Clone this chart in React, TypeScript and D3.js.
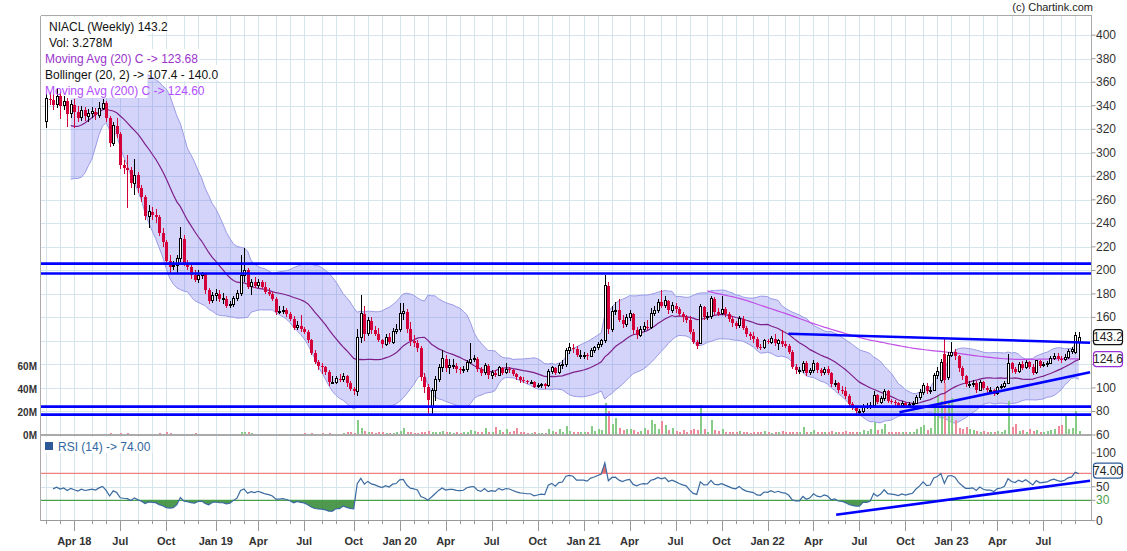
import React from "react";
import * as d3 from "d3";

// ---- data (weekly candles, NIACL) ----
const preCloses = [350, 330, 312, 296, 286, 292, 282, 290, 305, 318, 328, 336];

const opens = [
327,346,345,341,348,340,344,333,341,335,330,336,331,333,335,332,338,342,330,308,
323,316,290,287,285,274,281,270,262,246,250,247,245,232,224,208,203,204,210,227,
206,203,196,192,196,197,183,174,179,180,176,176,170,171,176,180,196,200,186,190,
187,190,186,182,180,176,165,165,166,163,159,151,153,150,148,141,130,122,119,118,
114,105,105,108,107,110,104,99,97,143,163,146,157,149,146,141,137,143,139,148,
150,163,165,150,140,138,134,109,101,83,98,107,117,125,117,119,119,116,115,116,
122,124,125,116,113,119,111,113,111,117,113,116,115,112,109,107,106,105,105,101,
102,103,102,114,117,113,119,120,132,134,133,128,128,128,127,132,134,137,140,187,
150,165,166,158,154,160,163,149,145,150,152,151,163,166,173,170,174,166,170,167,
163,160,158,148,139,138,169,160,161,176,165,163,167,163,159,155,153,159,151,146,
144,142,135,134,140,139,142,138,140,137,136,131,118,115,115,121,113,115,121,115,
113,116,113,103,104,98,97,93,86,83,80,80,84,84,85,94,88,91,97,89,
88,87,85,87,85,86,87,92,96,102,97,98,111,106,129,109,128,131,127,117,
110,103,103,104,98,105,100,98,98,95,100,101,104,121,116,114,120,117,122,118,
113,123,119,120,121,125,127,125,124,126,131,130,139];

const highs = [
350,352,350,355,352,348,347,345,346,340,340,339,337,339,338,343,346,344,331,326,
330,318,294,298,288,295,284,273,264,256,254,252,247,236,226,213,208,213,237,230,
209,205,200,200,199,198,185,182,184,183,181,178,174,178,183,213,219,202,193,194,
193,192,190,185,182,177,170,170,168,165,161,157,162,152,149,142,132,124,121,119,
115,110,110,112,113,111,106,101,150,179,170,160,160,153,151,142,146,147,151,154,
172,172,167,156,145,141,136,113,103,100,110,120,132,128,125,125,121,118,119,124,
138,128,126,118,121,120,115,115,119,118,121,118,116,113,110,109,107,107,106,104,
104,104,116,119,118,121,124,134,138,137,136,132,131,130,134,136,139,142,196,190,
170,173,176,162,163,166,164,152,153,156,158,168,170,176,183,178,175,173,172,169,
165,162,161,150,141,171,170,165,178,177,168,178,169,165,161,157,161,161,153,148,
148,143,137,142,142,144,146,142,149,140,137,132,120,118,123,123,117,124,122,117,
118,119,114,107,105,102,101,95,88,85,82,86,87,88,97,95,93,99,98,91,
90,88,89,88,88,89,94,99,104,104,101,113,118,125,142,131,139,133,128,119,
111,106,107,106,107,106,102,101,99,102,103,106,129,122,118,122,123,124,123,120,
124,124,122,123,127,130,130,127,129,133,135,148,148];

const lows = [
321,341,336,338,329,336,322,330,321,326,327,327,326,330,328,330,336,326,305,306,
313,286,282,253,270,264,266,258,243,236,243,240,229,220,205,197,200,198,207,204,
200,193,190,189,193,180,171,172,174,173,171,168,168,169,174,178,190,184,179,185,
185,184,180,178,174,162,163,163,160,157,149,149,148,146,138,128,120,115,112,111,
102,103,103,105,105,101,97,94,93,138,140,144,146,144,139,134,136,137,137,146,
148,158,147,136,135,131,106,96,76,76,89,105,114,114,112,116,113,112,113,114,
120,122,114,110,111,108,108,109,110,111,112,113,110,107,104,104,103,103,100,100,
100,99,101,112,111,112,116,118,129,130,126,125,125,124,126,130,132,135,138,146,
148,162,156,151,152,157,146,142,143,148,149,150,161,164,168,168,163,164,164,161,
156,155,146,137,133,137,158,158,159,162,161,162,160,156,152,150,151,149,143,141,
138,133,132,133,137,137,136,132,135,134,129,116,112,112,113,110,111,113,113,110,
111,111,101,101,96,95,91,84,81,78,78,79,82,82,84,86,86,89,87,86,
85,83,83,83,84,84,86,90,94,95,95,97,108,104,104,107,126,124,114,107,
101,100,101,96,97,98,96,96,93,94,99,100,103,113,112,113,115,116,116,111,
112,117,118,118,120,124,123,121,123,125,129,129,124];

const closes = [
346,345,341,348,340,344,333,341,335,330,336,331,333,335,332,338,342,330,308,323,
316,290,287,285,274,281,270,262,246,250,247,245,232,224,208,203,204,210,227,206,
203,196,192,196,197,183,174,179,180,176,176,170,171,176,180,196,200,186,190,187,
190,186,182,180,176,165,165,166,163,159,151,153,150,148,141,130,122,119,118,114,
105,105,108,107,110,104,99,97,143,163,146,157,149,146,141,137,143,139,148,150,
163,165,150,140,138,134,109,101,90,98,107,117,125,117,119,119,116,115,116,122,
124,125,116,113,119,111,113,111,117,113,116,115,112,109,107,106,105,105,101,102,
103,102,114,117,113,119,120,132,134,133,128,128,128,127,132,134,137,140,187,150,
165,166,158,154,160,163,149,145,150,152,151,163,166,173,170,174,166,170,167,163,
160,158,148,139,136,169,160,161,176,165,163,167,163,159,155,153,159,151,146,144,
142,135,134,140,139,142,138,140,137,136,131,118,115,115,121,113,115,121,115,113,
116,113,103,104,98,97,93,86,83,80,80,84,84,85,94,88,91,97,89,88,
87,85,87,85,86,87,92,96,102,97,98,111,114,122,107,128,130,127,117,110,
103,103,104,98,105,100,98,98,95,100,101,104,121,116,114,120,117,122,118,113,
123,119,120,121,125,127,125,124,126,131,133,145,143.2];

const volumes = [
1.2,0.8,0.6,0.5,0.7,1.0,0.6,0.5,0.4,0.6, 0.5,0.6,0.4,1.0,1.2,0.9,1.1,0.8,1.4,1.0,
0.8,1.5,1.0,1.6,1.2,0.8,1.0,0.9,1.3,1.1, 0.8,1.2,1.5,1.3,2.2,1.4,1.0,0.9,1.2,1.0,
0.7,1.0,1.4,1.2,0.8,0.6,1.3,0.7,0.6,0.8, 0.7,0.9,0.6,0.8,1.2,2.5,2.8,2.4,2.0,1.3,
0.8,0.9,0.7,0.6,0.9,1.2,0.8,0.7,0.6,0.9, 1.1,0.8,1.0,1.4,1.0,1.6,1.2,0.9,1.4,1.0,
1.5,1.1,0.9,1.0,1.8,2.2,2.5,2.0,13,6, 3.5,2.5,2.2,2.0,2.8,2.4,1.8,2.0,1.5,2.5,
3.5,6,2.4,2.2,2.0,1.8,2.5,3.0,3.5,2.8, 3.0,2.6,3.8,2.4,2.2,2.0,2.6,1.8,2.2,3.0,
4.0,3.2,2.8,2.4,6.0,3.0,2.6,7.0,4.0,2.4, 5.0,2.4,3.5,6.0,2.6,2.2,1.8,2.0,2.4,1.6,
1.8,2.0,5.0,3.5,2.8,5.0,3.0,8.0,3.5,2.6, 2.8,2.4,2.2,2.6,8.0,3.5,5.0,4.0,27.5,21,
10,15,6.0,4.0,5.0,5.5,4.5,3.0,3.5,6.0, 4.0,13,10,5.0,12,9.0,4.5,6.0,3.5,3.0,
4.0,3.0,4.5,5.0,4.0,26,5.0,3.0,13,4.0, 3.5,5.0,2.8,3.0,2.6,2.4,3.5,2.8,2.2,2.0,
2.5,2.8,3.0,3.5,2.4,2.0,2.6,2.2,3.5,2.8, 3.0,2.8,2.4,2.2,7.0,3.0,2.6,4.0,2.8,2.4,
2.6,3.0,3.5,2.8,2.4,3.0,3.2,2.8,2.6,2.4, 3.0,4.5,3.5,5.0,11,4.0,5.0,9.5,3.0,2.6,
2.4,2.2,3.0,2.4,2.8,3.0,5.0,7.0,9.0,4.0, 6.0,26,35,30,45,30,32,13,6.0,5.0,
7.0,5.0,4.0,3.5,3.0,3.5,3.0,2.6,2.8,3.5, 3.0,4.0,30,7.0,10,3.5,4.0,3.0,5.0,3.5,
4.0,3.0,2.8,3.5,4.0,5.0,8.0,9.0,17,5.0, 6.0,21,3.278];

const hLevels = [205.7, 197.3, 84.1, 77.3];
const priceTrendlines = [
  { i1: 209.9, v1: 146.1, i2: 295.2, v2: 138.5 },
  { i1: 241.3, v1: 79.3, i2: 295.2, v2: 113.3 },
];
const rsiTrendlines = [{ i1: 223.4, v1: 8.7, i2: 295.2, v2: 59 }];
const priceGrid = [60, 80, 100, 120, 140, 160, 180, 200, 220, 240, 260, 280, 300, 320, 340, 360, 380, 400];
const priceLabels = [60, 80, 100, 160, 180, 200, 220, 240, 260, 280, 300, 320, 340, 360, 380, 400];
const volTicks = [0, 20, 40, 60];
const rsiTicks = [0, 30, 50, 100];
const monthNames = ["Jan", "Feb", "Mar", "Apr", "May", "Jun", "Jul", "Aug", "Sep", "Oct", "Nov", "Dec"];
const legendRows = [
  { text: "NIACL (Weekly) 143.2", color: "#111", x: 49, boxW: 125 },
  { text: "Vol: 3.278M", color: "#111", x: 49, boxW: 72 },
  { text: "Moving Avg (20) C -> 123.68", color: "#9933cc", x: 45, boxW: 158 },
  { text: "Bollinger (20, 2) -> 107.4 - 140.0", color: "#111", x: 45, boxW: 182 },
  { text: "Moving Avg (200) C -> 124.60", color: "#b24dff", x: 45, boxW: 106 },
];

const FONT = "'Liberation Sans', Arial, Helvetica, sans-serif";
const X0 = 40.5, X1 = 1091.5, TOP = 15.5, MAIN_BOT = 435, RSI_BOT = 520.6;
const START = new Date(2018, 1, 5);
const LAST_TICK_INDEX = 293;

export default function App() {
  const n = closes.length;
  const P = preCloses.length;
  const all = [...preCloses, ...closes];

  const x = d3.scaleLinear().domain([-1.55, 295.6]).range([X0, X1]);
  const y = d3.scaleLinear().domain([60, 400]).range([MAIN_BOT, 35.2]);
  const yv = d3.scaleLinear().domain([0, 60]).range([MAIN_BOT, 366]);
  const yr = d3.scaleLinear().domain([0, 100]).range([RSI_BOT, 453]);

  // indicators
  const ma = (len: number) =>
    closes.map((_, i) => {
      const j = i + P;
      if (j < len - 1) return null;
      return d3.mean(all.slice(j - len + 1, j + 1)) as number;
    });
  const ma20 = ma(20);
  const ma200 = ma(200);
  const sd20 = closes.map((_, i) => {
    const j = i + P;
    if (j < 19) return null;
    const w = all.slice(j - 19, j + 1);
    const m = d3.mean(w) as number;
    return Math.sqrt(d3.mean(w.map((v) => (v - m) * (v - m))) as number);
  });
  const rsiAll: (number | null)[] = all.map(() => null);
  let ag = 0, al = 0;
  for (let j = 1; j < all.length; j++) {
    const ch = all[j] - all[j - 1];
    const g = Math.max(ch, 0), l = Math.max(-ch, 0);
    if (j <= 14) {
      ag += g / 14; al += l / 14;
      if (j === 14) rsiAll[j] = 100 - 100 / (1 + ag / al);
    } else {
      ag = (ag * 13 + g) / 14; al = (al * 13 + l) / 14;
      rsiAll[j] = al === 0 ? 100 : 100 - 100 / (1 + ag / al);
    }
  }
  const rsi = closes.map((_, i) => rsiAll[i + P]);

  const idx = d3.range(n);
  const band = d3.area<number>()
    .defined((i) => ma20[i] != null)
    .x((i) => x(i))
    .y0((i) => y((ma20[i] as number) - 2 * (sd20[i] as number)))
    .y1((i) => y((ma20[i] as number) + 2 * (sd20[i] as number)))(idx) as string;
  const bandUp = d3.line<number>().defined((i) => ma20[i] != null).x((i) => x(i))
    .y((i) => y((ma20[i] as number) + 2 * (sd20[i] as number)))(idx) as string;
  const bandDn = d3.line<number>().defined((i) => ma20[i] != null).x((i) => x(i))
    .y((i) => y((ma20[i] as number) - 2 * (sd20[i] as number)))(idx) as string;
  const ma20Path = d3.line<number>().defined((i) => ma20[i] != null).x((i) => x(i)).y((i) => y(ma20[i] as number))(idx) as string;
  const ma200Path = d3.line<number>().defined((i) => ma200[i] != null).x((i) => x(i)).y((i) => y(ma200[i] as number))(idx) as string;
  const rsiPath = d3.line<number>().defined((i) => rsi[i] != null).x((i) => x(i)).y((i) => yr(rsi[i] as number))(idx) as string;
  const rsiArea = (lvl: number) =>
    d3.area<number>().defined((i) => rsi[i] != null).x((i) => x(i)).y0(yr(lvl)).y1((i) => yr(rsi[i] as number))(idx) as string;

  // month ticks
  const dateAt = (i: number) => d3.timeDay.offset(START, 7 * i);
  const months: { i: number; m: number; yr: number }[] = [];
  for (let i = 0; i <= LAST_TICK_INDEX; i++) {
    const d = dateAt(i);
    const prev = dateAt(i - 1);
    if (d.getMonth() !== prev.getMonth()) months.push({ i, m: d.getMonth(), yr: d.getFullYear() });
  }
  let firstLabel = true;
  const quarterLabels = months.filter((t) => t.m % 3 === 0).map((t) => {
    let label = monthNames[t.m];
    if (t.m === 0 || firstLabel) label += " " + String(t.yr).slice(2);
    firstLabel = false;
    return { ...t, label };
  });

  const grid = "#d5e5ec";

  return (
    <svg width={1127} height={551} style={{ display: "block", position: "absolute", left: 0, top: 0 }} fontFamily={FONT}>
      <defs>
        <clipPath id="mainClip"><rect x={X0} y={TOP} width={X1 - X0} height={MAIN_BOT - TOP} /></clipPath>
        <clipPath id="rsiClip"><rect x={X0} y={MAIN_BOT} width={X1 - X0} height={RSI_BOT - MAIN_BOT} /></clipPath>
        <clipPath id="below30"><rect x={X0} y={yr(30)} width={X1 - X0} height={RSI_BOT - yr(30)} /></clipPath>
        <clipPath id="above70"><rect x={X0} y={MAIN_BOT} width={X1 - X0} height={yr(70) - MAIN_BOT} /></clipPath>
      </defs>
      <rect x={0} y={0} width={1127} height={551} fill="#fff" />

      {/* grid */}
      <g stroke={grid} strokeWidth={1} shapeRendering="crispEdges">
        {months.map((t) => (
          <line key={"vg" + t.i} x1={Math.round(x(t.i)) + 0.5} x2={Math.round(x(t.i)) + 0.5} y1={TOP} y2={RSI_BOT} />
        ))}
        {priceGrid.map((v) => (
          <line key={"hg" + v} x1={X0} x2={X1} y1={Math.round(y(v)) + 0.5} y2={Math.round(y(v)) + 0.5} />
        ))}
        <line x1={X0} x2={X1} y1={Math.round(yr(50)) + 0.5} y2={Math.round(yr(50)) + 0.5} />
      </g>

      {/* legend boxes hide grid */}
      {legendRows.map((r, k) => (
        <rect key={"lb" + k} x={X0 + 1} y={17 + k * 16} width={r.boxW} height={16} fill="#fff" />
      ))}

      <g clipPath="url(#mainClip)">
        <path d={band} fill="rgb(100,100,240)" fillOpacity={0.28} />
        <path d={bandUp} fill="none" stroke="#9a9ae6" strokeWidth={1} />
        <path d={bandDn} fill="none" stroke="#9a9ae6" strokeWidth={1} />
        <rect x={X0 + 1} y={17} width={106} height={81} fill="#fff" />

        {/* volume */}
        <g shapeRendering="crispEdges">
          {idx.map((i) => {
            const cx = Math.round(x(i));
            const up = closes[i] >= opens[i];
            return (
              <rect key={"v" + i} x={cx - 0.5} y={yv(volumes[i])} width={2} height={MAIN_BOT - yv(volumes[i])}
                fill={up ? "#86cc86" : "#ee8a9a"} />
            );
          })}
        </g>

        <path d={ma200Path} fill="none" stroke="#c04ee6" strokeWidth={1.2} />
        <path d={ma20Path} fill="none" stroke="#7e1f8a" strokeWidth={1.2} />

        {/* candles */}
        <g shapeRendering="crispEdges">
          {idx.map((i) => {
            const cx = Math.round(x(i));
            const o = opens[i], c = closes[i];
            const up = c >= o;
            const top = y(Math.max(o, c)), bot = y(Math.min(o, c));
            const h = Math.max(1, bot - top);
            return (
              <g key={"c" + i}>
                <line x1={cx + 0.5} x2={cx + 0.5} y1={y(highs[i])} y2={y(lows[i])} stroke={up ? "#000" : "#d4003a"} strokeWidth={1} />
                {up ? (
                  <rect x={cx - 0.5} y={top} width={2} height={h} fill="#fff" stroke="#000" strokeWidth={1} />
                ) : (
                  <rect x={cx - 1} y={top} width={3} height={h} fill="#d4003a" />
                )}
              </g>
            );
          })}
        </g>

        {/* support/resistance lines */}
        {hLevels.map((v) => (
          <line key={"hl" + v} x1={X0} x2={X1} y1={y(v)} y2={y(v)} stroke="#0000ff" strokeWidth={2.6} />
        ))}
        {priceTrendlines.map((t, k) => (
          <line key={"tl" + k} x1={x(t.i1)} x2={x(t.i2)} y1={y(t.v1)} y2={y(t.v2)} stroke="#0000ff" strokeWidth={2.6} />
        ))}
      </g>

      {/* RSI panel */}
      <g clipPath="url(#rsiClip)">
        <path d={rsiArea(30)} fill="#3b8e3b" fillOpacity={0.9} clipPath="url(#below30)" />
        <path d={rsiArea(70)} fill="#e06060" fillOpacity={0.9} clipPath="url(#above70)" />
        <line x1={X0} x2={X1} y1={yr(70)} y2={yr(70)} stroke="#f08080" strokeWidth={1.2} />
        <line x1={X0} x2={X1} y1={yr(30)} y2={yr(30)} stroke="#4aa04a" strokeWidth={1.2} />
        <path d={rsiPath} fill="none" stroke="#3a6aa0" strokeWidth={1.2} />
        {rsiTrendlines.map((t, k) => (
          <line key={"rt" + k} x1={x(t.i1)} x2={x(t.i2)} y1={yr(t.v1)} y2={yr(t.v2)} stroke="#0000ff" strokeWidth={2.6} />
        ))}
      </g>
      <rect x={X0 + 1} y={437} width={111} height={16} fill="#fff" />
      <rect x={45} y={442} width={8} height={8} fill="#2d5a96" />
      <text x={58} y={450.5} fontSize={12} fill="#3366a0">RSI (14) -&gt; 74.00</text>

      {/* frame */}
      <g stroke="#aaa" fill="none" shapeRendering="crispEdges">
        <line x1={X0} x2={X0} y1={TOP} y2={RSI_BOT} />
        <line x1={X1} x2={X1} y1={TOP} y2={RSI_BOT} />
        <line x1={X0} x2={X1} y1={TOP} y2={TOP} />
        <line x1={X0} x2={X1} y1={RSI_BOT} y2={RSI_BOT} stroke="#999" />
      </g>
      <line x1={X0} x2={X1} y1={MAIN_BOT} y2={MAIN_BOT} stroke="#aaa" strokeWidth={2} />

      {/* legend text */}
      {legendRows.map((r, k) => (
        <text key={"lt" + k} x={r.x} y={31 + k * 16} fontSize={12} fill={r.color}>{r.text}</text>
      ))}
      <text x={1093} y={11} fontSize={11} fill="#222" textAnchor="end">(c) Chartink.com</text>

      {/* right axis */}
      <g fontSize={12} fill="#333">
        {priceGrid.map((v) => (
          <line key={"ptk" + v} x1={X1} x2={X1 + 4} y1={y(v)} y2={y(v)} stroke="#999" />
        ))}
        {priceLabels.map((v) => (
          <text key={"pt" + v} x={1096} y={y(v) + 4}>{v}</text>
        ))}
        {rsiTicks.map((v) => (
          <g key={"rtk" + v}>
            <line x1={X1} x2={X1 + 4} y1={yr(v)} y2={yr(v)} stroke="#999" />
            <text x={1096} y={yr(v) + 4} fill={v === 30 ? "#4aa04a" : "#333"}>{v}</text>
          </g>
        ))}
      </g>
      {/* value boxes */}
      {[
        { v: y(143.2), t: "143.2", s: "#111" },
        { v: y(124.6), t: "124.6", s: "#9b30d9" },
        { v: yr(74), t: "74.00", s: "#2d5a96" },
      ].map((b) => (
        <g key={b.t}>
          <rect x={1093.5} y={b.v - 7.5} width={29} height={15} rx={3} fill="#fff" stroke={b.s} strokeWidth={1.2} />
          <text x={1108} y={b.v + 4.3} fontSize={12} textAnchor="middle" fill="#222">{b.t}</text>
        </g>
      ))}

      {/* left volume axis */}
      <g fontSize={10} fontWeight="bold" fill="#333" textAnchor="end">
        {volTicks.map((v) => (
          <text key={"vt" + v} x={37} y={yv(v) + 3.5}>{v}M</text>
        ))}
      </g>

      {/* bottom axis */}
      <g stroke="#999" shapeRendering="crispEdges">
        {months.map((t) => (
          <line key={"mt" + t.i} x1={Math.round(x(t.i)) + 0.5} x2={Math.round(x(t.i)) + 0.5} y1={RSI_BOT} y2={t.m % 3 === 0 ? RSI_BOT + 10 : RSI_BOT + 3} />
        ))}
      </g>
      <g fontSize={11} fontWeight="bold" fill="#333" textAnchor="middle">
        {quarterLabels.map((t) => (
          <text key={"ql" + t.i} x={x(t.i)} y={545}>{t.label}</text>
        ))}
      </g>
    </svg>
  );
}
